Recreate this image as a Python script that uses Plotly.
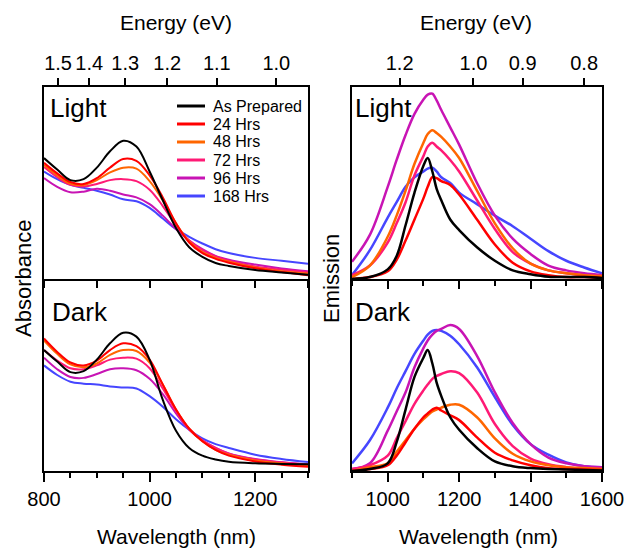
import plotly.graph_objects as go

# ---------------- data ----------------
labels = ["As Prepared", "24 Hrs", "48 Hrs", "72 Hrs", "96 Hrs", "168 Hrs"]
colors = ["#000000", "#ff0000", "#ff6600", "#ff1a75", "#c814b4", "#4646ff"]

abs_wl = [800, 825, 850, 875, 900, 925, 950, 975, 1000, 1025, 1050, 1075, 1100, 1125, 1150, 1200, 1250, 1300]

abs_light_0 = [0.63, 0.57, 0.515, 0.52, 0.58, 0.665, 0.72, 0.69, 0.56, 0.41, 0.265, 0.165, 0.115, 0.083, 0.068, 0.047, 0.034, 0.022]
abs_light_24 = [0.605, 0.55, 0.505, 0.495, 0.525, 0.58, 0.625, 0.615, 0.54, 0.425, 0.29, 0.19, 0.135, 0.105, 0.085, 0.056, 0.036, 0.02]
abs_light_48 = [0.594, 0.54, 0.497, 0.49, 0.515, 0.555, 0.58, 0.575, 0.51, 0.41, 0.29, 0.195, 0.14, 0.11, 0.09, 0.06, 0.04, 0.028]
abs_light_72 = [0.583, 0.53, 0.49, 0.482, 0.495, 0.515, 0.52, 0.51, 0.465, 0.38, 0.28, 0.2, 0.15, 0.118, 0.095, 0.065, 0.048, 0.035]
abs_light_96 = [0.526, 0.48, 0.452, 0.455, 0.47, 0.46, 0.44, 0.425, 0.39, 0.33, 0.26, 0.2, 0.155, 0.12, 0.1, 0.075, 0.055, 0.04]
abs_light_168 = [0.56, 0.52, 0.49, 0.475, 0.46, 0.44, 0.415, 0.405, 0.37, 0.315, 0.26, 0.22, 0.185, 0.155, 0.135, 0.11, 0.095, 0.08]

abs_dark_0 = [0.63, 0.57, 0.515, 0.52, 0.58, 0.665, 0.72, 0.70, 0.58, 0.37, 0.21, 0.12, 0.08, 0.06, 0.048, 0.04, 0.037, 0.035]
abs_dark_24 = [0.69, 0.62, 0.565, 0.55, 0.575, 0.63, 0.665, 0.65, 0.58, 0.45, 0.32, 0.22, 0.155, 0.11, 0.08, 0.05, 0.033, 0.022]
abs_dark_48 = [0.68, 0.61, 0.555, 0.54, 0.56, 0.605, 0.63, 0.625, 0.565, 0.45, 0.32, 0.22, 0.155, 0.11, 0.085, 0.055, 0.04, 0.03]
abs_dark_72 = [0.63, 0.575, 0.535, 0.53, 0.55, 0.58, 0.59, 0.585, 0.535, 0.43, 0.315, 0.22, 0.16, 0.12, 0.09, 0.06, 0.045, 0.032]
abs_dark_96 = [0.59, 0.53, 0.49, 0.485, 0.505, 0.53, 0.535, 0.525, 0.48, 0.4, 0.3, 0.215, 0.16, 0.12, 0.092, 0.062, 0.045, 0.035]
abs_dark_168 = [0.55, 0.5, 0.465, 0.455, 0.45, 0.44, 0.435, 0.43, 0.39, 0.335, 0.27, 0.215, 0.17, 0.14, 0.12, 0.085, 0.063, 0.047]

em_wl = [900, 950, 1000, 1025, 1050, 1075, 1100, 1112, 1125, 1137, 1150, 1175, 1200, 1250, 1300, 1350, 1400, 1450, 1500, 1550, 1600]

em_light_0 = [0.0, 0.01, 0.05, 0.12, 0.28, 0.45, 0.59, 0.63, 0.56, 0.47, 0.41, 0.31, 0.255, 0.165, 0.095, 0.045, 0.025, 0.012, 0.01, 0.01, 0.005]
em_light_24 = [0.0, 0.01, 0.04, 0.10, 0.20, 0.31, 0.42, 0.48, 0.53, 0.525, 0.51, 0.49, 0.44, 0.31, 0.18, 0.085, 0.04, 0.02, 0.01, 0.01, 0.005]
em_light_48 = [0.01, 0.07, 0.22, 0.33, 0.46, 0.60, 0.71, 0.755, 0.775, 0.76, 0.74, 0.69, 0.63, 0.46, 0.29, 0.16, 0.08, 0.045, 0.03, 0.02, 0.015]
em_light_72 = [0.02, 0.07, 0.19, 0.29, 0.40, 0.54, 0.64, 0.69, 0.71, 0.69, 0.67, 0.62, 0.56, 0.41, 0.26, 0.14, 0.08, 0.045, 0.03, 0.02, 0.015]
em_light_96 = [0.09, 0.23, 0.48, 0.62, 0.75, 0.86, 0.935, 0.96, 0.965, 0.93, 0.88, 0.79, 0.70, 0.50, 0.33, 0.21, 0.13, 0.07, 0.045, 0.03, 0.02]
em_light_168 = [0.02, 0.15, 0.32, 0.40, 0.48, 0.53, 0.56, 0.575, 0.58, 0.56, 0.53, 0.50, 0.45, 0.39, 0.33, 0.275, 0.21, 0.145, 0.095, 0.06, 0.03]

em_dark_0 = [0.0, 0.01, 0.04, 0.15, 0.32, 0.49, 0.59, 0.63, 0.56, 0.46, 0.39, 0.28, 0.215, 0.12, 0.05, 0.025, 0.015, 0.01, 0.008, 0.005, 0.003]
em_dark_24 = [0.0, 0.01, 0.03, 0.08, 0.15, 0.22, 0.28, 0.30, 0.32, 0.33, 0.315, 0.29, 0.265, 0.175, 0.095, 0.055, 0.03, 0.015, 0.01, 0.008, 0.005]
em_dark_48 = [0.0, 0.02, 0.04, 0.10, 0.16, 0.22, 0.27, 0.29, 0.31, 0.32, 0.33, 0.345, 0.345, 0.28, 0.17, 0.09, 0.05, 0.03, 0.02, 0.015, 0.01]
em_dark_72 = [0.01, 0.03, 0.08, 0.17, 0.26, 0.35, 0.42, 0.45, 0.48, 0.495, 0.505, 0.52, 0.51, 0.41, 0.245, 0.13, 0.065, 0.035, 0.02, 0.012, 0.01]
em_dark_96 = [0.01, 0.04, 0.21, 0.31, 0.41, 0.54, 0.64, 0.68, 0.71, 0.73, 0.74, 0.76, 0.74, 0.60, 0.41, 0.25, 0.14, 0.07, 0.04, 0.025, 0.02]
em_dark_168 = [0.04, 0.16, 0.33, 0.43, 0.52, 0.61, 0.68, 0.71, 0.73, 0.735, 0.73, 0.705, 0.66, 0.54, 0.385, 0.24, 0.14, 0.085, 0.045, 0.025, 0.02]

abs_light = [abs_light_0, abs_light_24, abs_light_48, abs_light_72, abs_light_96, abs_light_168]
abs_dark = [abs_dark_0, abs_dark_24, abs_dark_48, abs_dark_72, abs_dark_96, abs_dark_168]
em_light = [em_light_0, em_light_24, em_light_48, em_light_72, em_light_96, em_light_168]
em_dark = [em_dark_0, em_dark_24, em_dark_48, em_dark_72, em_dark_96, em_dark_168]

abs_energy_ticks = [1.5, 1.4, 1.3, 1.2, 1.1, 1.0]
em_energy_ticks = [1.2, 1.0, 0.9, 0.8]

# ---------------- figure ----------------
W, H = 627, 548
FONT = "Liberation Sans, Arial, sans-serif"

def px_x(p):
    return p / W

def px_y(p):
    return 1 - p / H

xL = [px_x(44), px_x(308)]
xR = [px_x(352), px_x(602)]
yTop = [px_y(279), px_y(87)]
yBot = [px_y(471), px_y(279)]

fig = go.Figure()

def add_set(wl, sets, xa, ya, width, shape):
    for i in reversed(range(len(sets))):
        fig.add_trace(go.Scatter(
            x=wl, y=sets[i], mode="lines", xaxis=xa, yaxis=ya,
            line=dict(color=colors[i], width=width, shape=shape, smoothing=1.0),
            showlegend=False, hoverinfo="skip"))

add_set(abs_wl, abs_dark, "x", "y", 2, "spline")
add_set(abs_wl, abs_light, "x2", "y2", 2, "spline")
add_set(em_wl, em_dark, "x4", "y3", 2.5, "spline")
add_set(em_wl, em_light, "x5", "y4", 2.5, "spline")

# empty traces so that the top energy axes get drawn
fig.add_trace(go.Scatter(x=[None], y=[None], xaxis="x3", yaxis="y2", mode="lines",
                         showlegend=False, hoverinfo="skip"))
fig.add_trace(go.Scatter(x=[None], y=[None], xaxis="x6", yaxis="y4", mode="lines",
                         showlegend=False, hoverinfo="skip"))

axcommon = dict(showline=True, linecolor="black", linewidth=2, showgrid=False,
                zeroline=False, tickcolor="black", tickwidth=1.5, automargin=False,
                tickfont=dict(family=FONT, size=20, color="black"))

yax = dict(showline=True, linecolor="black", linewidth=2, showgrid=False, automargin=False,
           zeroline=False, ticks="", showticklabels=False, mirror=True, range=[0, 1])

energy_common = dict(side="top", ticks="outside", ticklen=8, tickcolor="black", tickwidth=1.5,
                     showline=False, showgrid=False, zeroline=False, automargin=False,
                     tickmode="array", tickfont=dict(family=FONT, size=20, color="black"))

fig.update_layout(
    template="none",
    width=W, height=H, margin=dict(l=0, r=0, t=0, b=0, pad=0),
    paper_bgcolor="white", plot_bgcolor="white", showlegend=False,
    font=dict(family=FONT, color="black"),
    # left bottom (absorbance dark)
    xaxis=dict(domain=xL, anchor="y", range=[800, 1300], tick0=800, dtick=200,
               ticks="outside", ticklen=9, mirror=False,
               minor=dict(dtick=50, ticks="outside", ticklen=5, tickcolor="black", tickwidth=1.5,
                          showgrid=False),
               **axcommon),
    yaxis=dict(domain=yBot, anchor="x", **yax),
    # left top (absorbance light)
    xaxis2=dict(domain=xL, anchor="y2", range=[800, 1300], tick0=800, dtick=100,
                ticks="outside", ticklen=7, mirror=True, showticklabels=False,
                **axcommon),
    yaxis2=dict(domain=yTop, anchor="x2", **yax),
    xaxis3=dict(overlaying="x2", anchor="y2", range=[800, 1300],
                tickvals=[1240.0 / e for e in abs_energy_ticks],
                ticktext=["%.1f" % e for e in abs_energy_ticks], **energy_common),
    # right bottom (emission dark)
    xaxis4=dict(domain=xR, anchor="y3", range=[900, 1600], tick0=1000, dtick=200,
                ticks="outside", ticklen=9, mirror=False,
                minor=dict(dtick=100, ticks="outside", ticklen=5, tickcolor="black", tickwidth=1.5,
                           showgrid=False),
                **axcommon),
    yaxis3=dict(domain=yBot, anchor="x4", **yax),
    # right top (emission light)
    xaxis5=dict(domain=xR, anchor="y4", range=[900, 1600], tick0=1000, dtick=200,
                ticks="outside", ticklen=8, mirror=True, showticklabels=False,
                minor=dict(dtick=100, ticks="outside", ticklen=5, tickcolor="black", tickwidth=1.5,
                           showgrid=False),
                **axcommon),
    yaxis4=dict(domain=yTop, anchor="x5", **yax),
    xaxis6=dict(overlaying="x5", anchor="y4", range=[900, 1600],
                tickvals=[1240.0 / e for e in em_energy_ticks],
                ticktext=["%.1f" % e for e in em_energy_ticks], **energy_common),
)

ann = []
def text(x, y, s, size, xanchor="center", yanchor="middle", angle=0):
    ann.append(dict(x=px_x(x), y=px_y(y), xref="paper", yref="paper", text=s,
                    showarrow=False, xanchor=xanchor, yanchor=yanchor, textangle=angle,
                    font=dict(family=FONT, size=size, color="black")))

text(176, 22, "Energy (eV)", 21)
text(476, 22, "Energy (eV)", 21)
text(177, 536, "Wavelength (nm)", 21)
text(478, 536, "Wavelength (nm)", 21)
text(23, 279, "Absorbance", 22, angle=-90)
text(331, 279, "Emission", 22, angle=-90)
text(48, 108, "Light", 26, xanchor="left")
text(50, 312, "Dark", 26, xanchor="left")
text(353, 108, "Light", 26, xanchor="left")
text(353, 312, "Dark", 26, xanchor="left")

# legend (manual, top-left panel)
shapes = []
for i, lab in enumerate(labels):
    yy = 106 + 18 * i
    shapes.append(dict(type="line", xref="paper", yref="paper",
                       x0=px_x(177), x1=px_x(205), y0=px_y(yy), y1=px_y(yy),
                       line=dict(color=colors[i], width=3)))
    text(211, yy, lab, 16, xanchor="left")

fig.update_layout(annotations=ann, shapes=shapes)
fig.write_html("out.html")
